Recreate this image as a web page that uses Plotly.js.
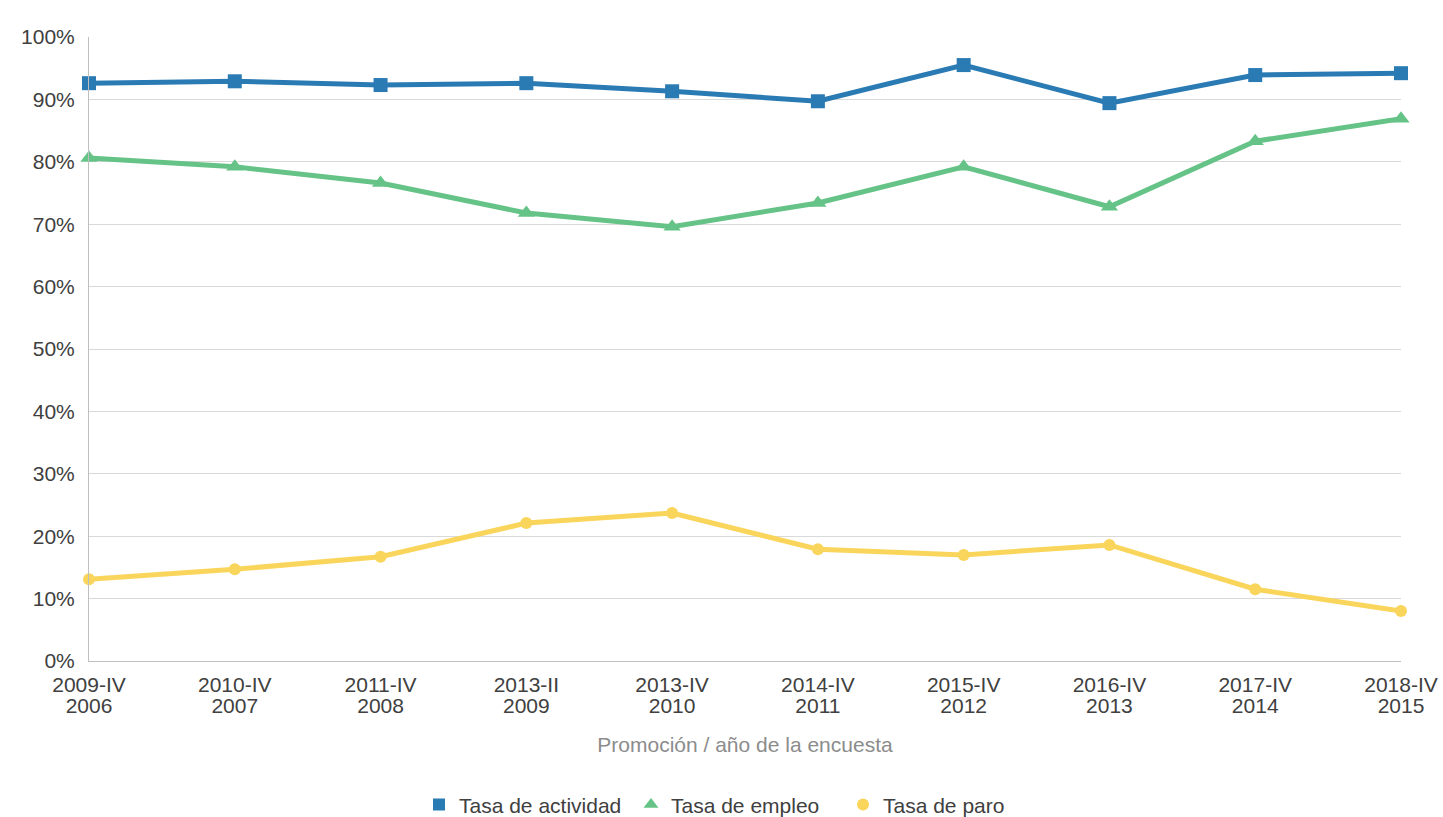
<!DOCTYPE html>
<html>
<head>
<meta charset="utf-8">
<script src="https://cdn.plot.ly/plotly-3.0.1.min.js"></script>
<style>html,body{margin:0;padding:0;background:#fff}#chart{width:1443px;height:817px}</style>
</head>
<body>
<div id="chart"></div>
<script>
const promocion = ["2009-IV","2010-IV","2011-IV","2013-II","2013-IV","2014-IV","2015-IV","2016-IV","2017-IV","2018-IV"];
const anioEncuesta = ["2006","2007","2008","2009","2010","2011","2012","2013","2014","2015"];
const tasaActividad = [92.6, 92.9, 92.3, 92.6, 91.3, 89.7, 95.5, 89.4, 93.9, 94.2];
const tasaEmpleo = [80.6, 79.2, 76.6, 71.8, 69.6, 73.4, 79.2, 72.8, 83.3, 86.9];
const tasaParo = [13.1, 14.7, 16.7, 22.1, 23.7, 17.9, 17.0, 18.6, 11.5, 8.0];
const yTicks = [0,10,20,30,40,50,60,70,80,90,100];

const series = [
  {name:"Tasa de actividad", y:tasaActividad, color:"#2a7ab4", symbol:"square", size:14, lsize:12},
  {name:"Tasa de empleo", y:tasaEmpleo, color:"#66c387", symbol:"triangle-up", size:15, lsize:13},
  {name:"Tasa de paro", y:tasaParo, color:"#fad55c", symbol:"circle", size:12, lsize:12}
];

const idx = promocion.map((_, i) => i);

const traces = [];
// carrier trace for the second (year) label row
traces.push({x:idx, y:tasaParo, xaxis:"x2", yaxis:"y", type:"scatter", mode:"markers",
  marker:{opacity:0, size:1}, showlegend:false, hoverinfo:"skip"});
series.forEach(s => {
  traces.push({x:promocion, y:s.y, type:"scatter", mode:"lines+markers", name:s.name, showlegend:false,
    line:{color:s.color, width:5}, marker:{symbol:s.symbol, size:s.size, color:s.color}, cliponaxis:false, hoverinfo:"y"});
});
series.forEach(s => {
  traces.push({x:[null], y:[null], type:"scatter", mode:"markers", name:s.name, showlegend:true,
    marker:{symbol:s.symbol, size:s.lsize, color:s.color}});
});

const layout = {
  width:1443, height:817,
  margin:{l:89, r:42, t:37, b:156},
  paper_bgcolor:"#fff", plot_bgcolor:"#fff",
  font:{family:"Liberation Sans, Arial, sans-serif", size:21, color:"#404040"},
  showlegend:true,
  legend:{orientation:"h", x:0.4939, xanchor:"center", yref:"container", y:0.015, yanchor:"middle",
    font:{size:21, color:"#404040"}, traceorder:"normal", itemwidth:30, entrywidth:167, entrywidthmode:"pixels"},
  xaxis:{type:"category", range:[0,9], showgrid:false, showline:true, linecolor:"#bfbfbf", linewidth:1,
    ticks:"", tickfont:{size:21, color:"#404040"}, automargin:false, ticklabelstandoff:5},
  xaxis2:{overlaying:"x", side:"bottom", anchor:"y", range:[0,9], tickvals:idx, ticktext:anioEncuesta,
    showgrid:false, showline:false, zeroline:false, ticks:"", tickfont:{size:21, color:"#404040"},
    automargin:false, ticklabelstandoff:30,
    title:{text:"Promoción / año de la encuesta", font:{size:21, color:"#8c8c8c"}, standoff:21}},
  yaxis:{range:[0,100], tickvals:yTicks, ticktext:yTicks.map(v=>v+"%"), showgrid:true, gridcolor:"#d9d9d9", gridwidth:1,
    showline:true, linecolor:"#bfbfbf", linewidth:1, zeroline:false, ticks:"", ticklabelstandoff:9,
    tickfont:{size:21, color:"#404040"}, automargin:false}
};

Plotly.newPlot("chart", traces, layout, {displayModeBar:false, staticPlot:true});
</script>
</body>
</html>
